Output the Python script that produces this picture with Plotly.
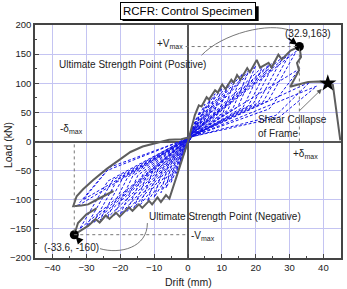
import plotly.graph_objects as go

# ---------------- data ----------------
x_ticks = [-40, -30, -20, -10, 0, 10, 20, 30, 40]
y_ticks = [-200, -150, -100, -50, 0, 50, 100, 150, 200]

# outer (gray) envelope, positive side incl. collapse
pos_env_x = [0, 1, 2, 3.2, 4, 5.5, 6.2, 8, 8.8, 10.1, 11.1, 12.8, 13.5, 14.5, 15.5, 17.5, 18.3,
             20.3, 21.3, 23.8, 24.7, 26.7, 27.7, 30.3, 32.9, 33.4, 32.2, 32.8, 31.7, 31.2, 30.2,
             32, 35.5, 38.5, 41.3, 42.8, 45]
pos_env_y = [0, 22, 45, 62, 60, 76, 72, 88, 84, 98, 90, 106, 101, 114, 106, 126, 119,
             140, 127, 135, 127, 149, 141, 156, 163, 145, 135, 122, 111, 104, 94,
             97, 102, 103, 100, 97, 2]

# outer (gray) envelope, negative side
neg_env_x = [0, -1, -2.5, -4, -5.5, -6.5, -8, -9, -10.6, -11.5, -13.5, -14.5, -16.4, -17.5,
             -20.2, -21.3, -23.2, -24.3, -26.1, -27.3, -29.5, -31.5, -33.6, -32.5, -30, -27]
neg_env_y = [0, -18, -45, -75, -98, -92, -104, -96, -108, -102, -114, -108, -119, -113,
             -129, -122, -133, -127, -139, -133, -145, -152, -160, -140, -125, -115]

# gray post-peak negative loop
neg_loop_x = [1, -2, -5.6, -9, -13.4, -17, -20.2, -24, -28, -31, -32.9, -33.9, -31.5, -29.5, -27, -25, -22]
neg_loop_y = [8, 4, 3, -2, -8.6, -18, -31, -47, -66, -82, -94, -111, -110, -108, -100, -94, -85]

# blue dashed hysteresis cycles
blue_x = [0,
          1.5, 1.1, 0.3, -1.5, -1.1, -0.3,
          2.5, 1.8, 0.4, -2.5, -1.8, -0.4,
          3.5, 2.6, 0.5, -3.5, -2.6, -0.5,
          5.0, 3.7, 0.6, -5.0, -3.7, -0.6,
          6.5, 4.8, 0.7, -6.5, -4.8, -0.7,
          8.0, 5.9, 0.8, -8.0, -5.9, -0.8,
          10.0, 7.4, 0.9, -10.0, -7.4, -0.9,
          12.0, 8.9, 1.0, -12.0, -8.9, -1.0,
          14.0, 10.4, 1.0, -14.0, -10.4, -1.0,
          16.0, 11.8, 1.0, -16.0, -11.8, -1.0,
          18.0, 13.3, 1.0, -18.0, -13.3, -1.0,
          20.0, 14.8, 1.0, -20.0, -14.8, -1.0,
          22.0, 16.3, 1.0, -22.0, -16.3, -1.0,
          24.0, 17.8, 1.0, -24.0, -17.8, -1.0,
          26.0, 19.2, 1.0, -26.0, -19.2, -1.0,
          28.0, 20.7, 1.0, -28.0, -20.7, -1.0,
          30.0, 22.2, 1.0, -30.0, -22.2, -1.0,
          32.0, 23.7, 1.0, -32.0, -23.7, -1.0,
          33.0, 24.0, 1.0, -33.0, -24.0, -1.0,
          36.0, 26.0, 1.0, -31.0, -23.0, -1.0,
          38.0, 27.0, 1.0]
blue_y = [0,
          25, 12, 3, -25, -12, -1,
          40, 19, 4, -40, -19, -1,
          52, 25, 4, -55, -26, -1,
          64, 30, 5, -70, -33, -1,
          72, 34, 5, -80, -37, 0,
          82, 38, 6, -88, -41, 0,
          92, 43, 6, -96, -45, 0,
          100, 47, 7, -103, -48, 1,
          108, 50, 7, -108, -50, 1,
          116, 54, 7, -114, -53, 1,
          122, 57, 8, -120, -56, 2,
          130, 60, 8, -125, -58, 2,
          128, 59, 8, -128, -59, 2,
          132, 61, 8, -132, -61, 2,
          140, 64, 9, -135, -62, 2,
          145, 66, 9, -140, -64, 3,
          150, 68, 9, -145, -66, 3,
          155, 70, 9, -150, -68, 3,
          125, 56, 8, -112, -50, 3,
          102, 45, 8, -100, -44, 3,
          95, 42, 8]

peak_x = [32.9, -33.6]
peak_y = [163, -160]
collapse_x = [41.3]
collapse_y = [100]

FONT = "Liberation Sans, Arial, sans-serif"
GRAY = "#5e5e5e"

fig = go.Figure()
fig.add_trace(go.Scatter(x=blue_x, y=blue_y, mode="lines",
                         line=dict(color="#1414e8", width=1, dash="3px,2px")))
for xs, ys in [(pos_env_x, pos_env_y), (neg_env_x, neg_env_y), (neg_loop_x, neg_loop_y)]:
    fig.add_trace(go.Scatter(x=xs, y=ys, mode="lines", line=dict(color=GRAY, width=2)))
fig.add_trace(go.Scatter(x=peak_x, y=peak_y, mode="markers",
                         marker=dict(color="black", size=9)))
fig.add_trace(go.Scatter(x=collapse_x, y=collapse_y, mode="markers",
                         marker=dict(color="black", size=13, symbol="star")))

# dotted guide lines
dot = dict(color="#777", width=1, dash="dot")
shapes = [
    dict(type="line", xref="x", yref="y", x0=-0.7, x1=peak_x[0], y0=peak_y[0], y1=peak_y[0], line=dot),
    dict(type="line", xref="x", yref="y", x0=peak_x[0], x1=peak_x[0], y0=0, y1=peak_y[0], line=dot),
    dict(type="line", xref="x", yref="y", x0=peak_x[1], x1=0, y0=peak_y[1], y1=peak_y[1], line=dot),
    dict(type="line", xref="x", yref="y", x0=peak_x[1], x1=peak_x[1], y0=-5, y1=peak_y[1], line=dot),
    # arcs
    dict(type="path", xref="x", yref="y", path="M 4,148 C 10,185 24,206 30.5,190",
         line=dict(color="#777", width=1)),
    dict(type="path", xref="x", yref="y", path="M -26,-184 C -20,-194 -12,-182 -12,-140",
         line=dict(color="#777", width=1)),
    # title box shadow
    dict(type="rect", xref="paper", yref="paper", x0=0.286, x1=0.731, y0=1.017, y1=1.081,
         fillcolor="black", line=dict(width=0)),
]

fs = 10
ann = [
    dict(x=-1, y=168, text="+V<sub>max</sub>", xanchor="right"),
    dict(x=0.3, y=-163, text="-V<sub>max</sub>", xanchor="left"),
    dict(x=30.3, y=-22, text="+δ<sub>max</sub>", xanchor="left"),
    dict(x=-38.5, y=22, text="-δ<sub>max</sub>", xanchor="left"),
    dict(x=35.5, y=186, text="(32.9,163)"),
    dict(x=-34.3, y=-182, text="(-33.6, -160)"),
    dict(x=-38.7, y=133, text="Ultimate Strength Point (Positive)", xanchor="left"),
    dict(x=-12, y=-128, text="Ultimate Strength Point (Negative)", xanchor="left"),
    dict(x=20.2, y=37, text="Shear Collapse", xanchor="left"),
    dict(x=20.2, y=13, text="of Frame", xanchor="left"),
]
for a in ann:
    a.setdefault("xanchor", "center")
    a["yanchor"] = "middle"
    a["showarrow"] = False
    a["font"] = dict(size=fs, color="#222")

ann += [
    # arrows
    dict(x=32.3, y=166, ax=29.2, ay=179, axref="x", ayref="y", text="", showarrow=True,
         arrowhead=2, arrowsize=1, arrowwidth=1.5, arrowcolor="black"),
    dict(x=-33.2, y=-163, ax=-31.8, ay=-172, axref="x", ayref="y", text="", showarrow=True,
         arrowhead=2, arrowsize=1, arrowwidth=1.5, arrowcolor="black"),
    dict(x=39.5, y=90, ax=32.6, ay=51, axref="x", ayref="y", text="", showarrow=True,
         arrowhead=2, arrowsize=1.2, arrowwidth=0.8, arrowcolor="#555"),
    # title box
    dict(xref="paper", yref="paper", x=0.4985, y=1.062, text="RCFR: Control Specimen",
         xanchor="center", yanchor="middle", showarrow=False,
         bgcolor="white", bordercolor="black", borderwidth=1, borderpad=2,
         font=dict(size=11.5, color="black")),
    # axis titles
    dict(xref="paper", yref="paper", x=-0.088, y=0.485, text="Load (kN)", textangle=-90,
         xanchor="center", yanchor="middle", showarrow=False, font=dict(size=10.5, color="#222")),
    dict(xref="paper", yref="paper", x=0.5, y=-0.103, text="Drift (mm)",
         xanchor="center", yanchor="middle", showarrow=False, font=dict(size=10.5, color="#222")),
]

axis_common = dict(showgrid=True, gridcolor="#c4c4f2", gridwidth=1,
                   zeroline=True, zerolinecolor="#555", zerolinewidth=1.5,
                   showline=True, linecolor="#444", linewidth=1.5, mirror=True,
                   ticks="inside", ticklen=4, tickcolor="#444",
                   tickfont=dict(size=9.5, color="#222", family=FONT),
                   minor=dict(ticks="inside", ticklen=2, tickcolor="#444", showgrid=False))

fig.update_layout(
    width=347, height=289,
    margin=dict(l=35, r=4, t=25, b=31),
    paper_bgcolor="white", plot_bgcolor="white",
    showlegend=False,
    font=dict(family=FONT, color="#222"),
    shapes=shapes, annotations=ann,
    xaxis=dict(range=[-45.2, 45.2], tickvals=x_ticks, **axis_common),
    yaxis=dict(range=[-200, 200], tickvals=y_ticks, **axis_common),
)
fig.update_xaxes(minor=dict(dtick=5, tick0=0))
fig.update_yaxes(minor=dict(dtick=25, tick0=0))

fig.write_html("out.html")
